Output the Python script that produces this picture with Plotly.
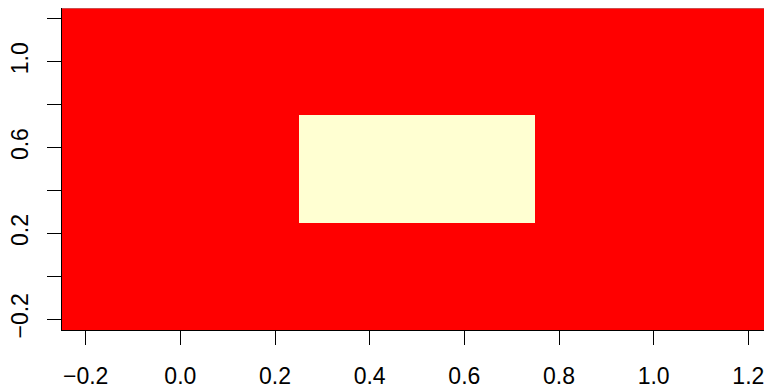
import plotly.graph_objects as go

x_centers = [0.0, 0.5, 1.0]
y_centers = [0.0, 0.5, 1.0]
z_values = [[0, 0, 0],
            [0, 1, 0],
            [0, 0, 0]]
x_ticks = [-0.2, 0.0, 0.2, 0.4, 0.6, 0.8, 1.0, 1.2]
x_labels = ["\u22120.2", "0.0", "0.2", "0.4", "0.6", "0.8", "1.0", "1.2"]
y_ticks = [-0.2, 0.0, 0.2, 0.4, 0.6, 0.8, 1.0, 1.2]
y_labels = ["\u22120.2", "", "0.2", "", "0.6", "", "1.0", ""]

fig = go.Figure(go.Heatmap(
    x=x_centers, y=y_centers, z=z_values,
    colorscale=[[0, "#FF0000"], [0.5, "#FF0000"], [0.5, "#FFFFD2"], [1, "#FFFFD2"]],
    showscale=False, hoverinfo="skip"))

font = dict(family="Liberation Sans, Arial, sans-serif", size=23, color="black")
fig.update_layout(
    width=764, height=380,
    margin=dict(l=54, r=0, t=0, b=58, pad=0),
    paper_bgcolor="white", plot_bgcolor="white",
    font=font,
    shapes=[dict(type="line", xref="paper", yref="paper", x0=0, x1=1, y0=1, y1=1,
                 line=dict(color="#9A9A9A", width=1))],
)
fig.update_xaxes(range=[-0.25, 1.25], tickvals=x_ticks, ticktext=x_labels,
                 ticks="outside", ticklen=14, tickcolor="black", tickwidth=1,
                 showline=True, linecolor="black", linewidth=1, showgrid=False,
                 zeroline=False, tickfont=font, ticklabelstandoff=11, automargin=False)
fig.update_yaxes(range=[-0.25, 1.25], tickvals=y_ticks, ticktext=y_labels,
                 ticks="outside", ticklen=14, tickcolor="black", tickwidth=1,
                 showline=True, linecolor="black", linewidth=1, showgrid=False,
                 zeroline=False, tickfont=font, tickangle=-90, ticklabelstandoff=10,
                 automargin=False)

fig.write_html("out.html")
